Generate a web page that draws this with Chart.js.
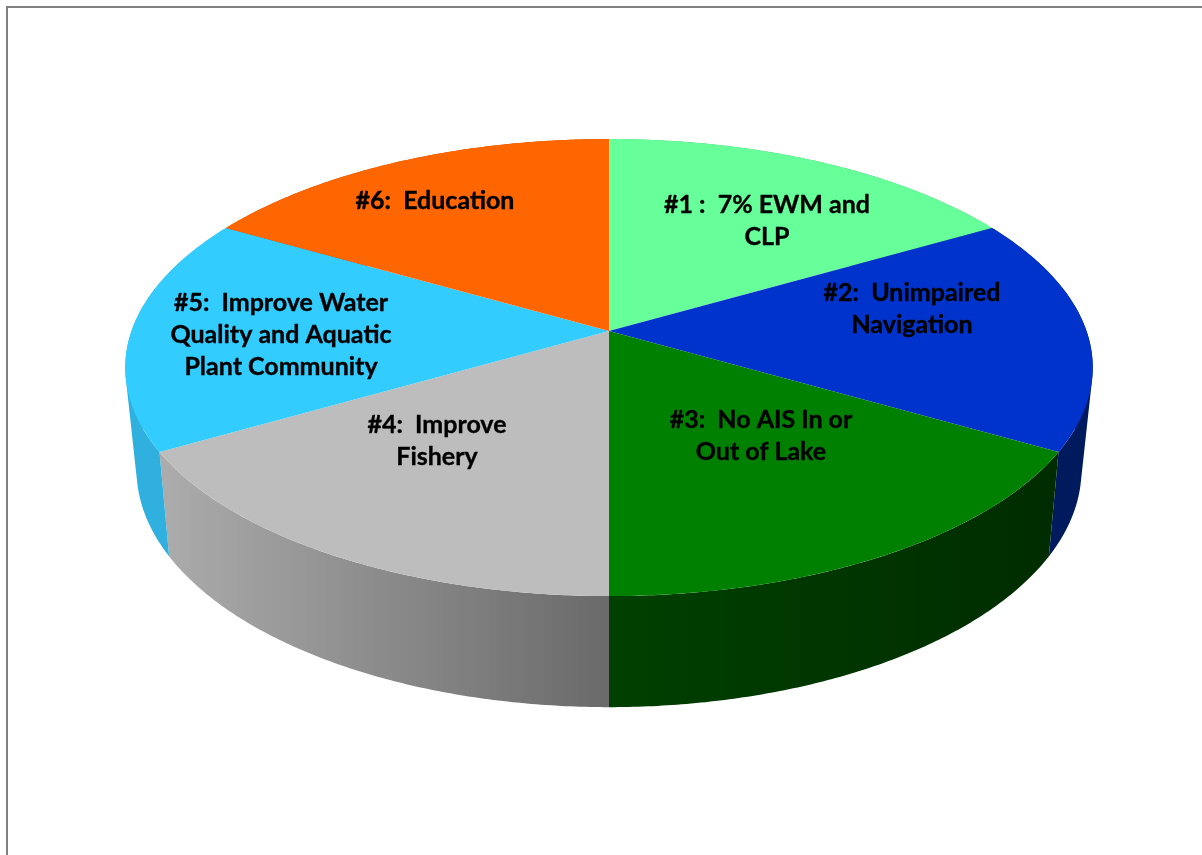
<!DOCTYPE html>
<html>
<head>
<meta charset="utf-8">
<style>
html,body{margin:0;padding:0;background:#fff;overflow:hidden}
#frame{position:absolute;left:6px;top:6px;width:1200px;height:860px;border-left:2px solid #808080;border-top:2px solid #808080}
canvas{position:absolute;left:0;top:0}
</style>
<script src="https://cdn.jsdelivr.net/npm/chart.js@4/dist/chart.umd.min.js"></script>
</head>
<body>
<div id="frame"></div>
<canvas id="c" width="1202" height="855"></canvas>
<script>
const categories = [
  ["#1 :  7% EWM and", "CLP"],
  ["#2:  Unimpaired", "Navigation"],
  ["#3:  No AIS In or", "Out of Lake"],
  ["#4:  Improve", "Fishery"],
  ["#5:  Improve Water", "Quality and Aquatic", "Plant Community"],
  ["#6:  Education"]
];
const sliceValues = [1, 1, 1, 1, 1, 1];
const topColors = ["#66FF99", "#0033CC", "#008000", "#BDBDBD", "#33CCFF", "#FF6600"];
// wall shading: colour at the left and right end of each visible wall
const wallColors = [
  ["#4dbf73", "#4dbf73"],
  ["#001a5e", "#001a5e"],
  ["#004000", "#002c00"],
  ["#acacac", "#6a6a6a"],
  ["#2fb0de", "#2fb0de"],
  ["#bf4d00", "#bf4d00"]
];

// Perspective of the disc: maps a unit-circle point to the page
const TOP = {x: 609, y: 331, a: 477.5, b: 222.7, c: -0.16};
const BOTTOM = {x: 609, y: 430.5, a: 466, b: 231, c: -0.165};
function project(plane, u, v) {
  const d = 1 + plane.c * v;
  return [plane.x + plane.a * u / d, plane.y + plane.b * v / d];
}
function tracePlane(ctx, plane, a0, a1, first) {
  const n = 90;
  for (let i = 0; i <= n; i++) {
    const a = a0 + (a1 - a0) * i / n;
    const p = project(plane, Math.cos(a), Math.sin(a));
    if (i === 0 && first) ctx.moveTo(p[0], p[1]); else ctx.lineTo(p[0], p[1]);
  }
}
const labelAnchors = [[767, 204.5], [912, 292.5], [761, 419.5], [437, 424.5], [281, 302.5], [435, 200.5]];
const lineGap = 32.4;

const disc3d = {
  id: 'disc3d',
  beforeDatasetDraw(chart, args) {
    const ctx = chart.ctx;
    const arcs = args.meta.data;
    ctx.save();
    // side walls: swept generators between the top and bottom rims
    arcs.forEach((el, i) => {
      const {startAngle, endAngle} = el.getProps(['startAngle', 'endAngle'], true);
      const steps = 120;
      const rims = [];
      for (let k = 0; k <= steps; k++) {
        const a = startAngle + (endAngle - startAngle) * k / steps;
        rims.push([project(TOP, Math.cos(a), Math.sin(a)), project(BOTTOM, Math.cos(a), Math.sin(a))]);
      }
      const xs = rims.flat().map(p => p[0]);
      const g = ctx.createLinearGradient(Math.min(...xs), 0, Math.max(...xs), 0);
      g.addColorStop(0, wallColors[i][0]);
      g.addColorStop(1, wallColors[i][1]);
      ctx.beginPath();
      for (let k = 0; k < steps; k++) {
        let q = [rims[k][0], rims[k + 1][0], rims[k + 1][1], rims[k][1]];
        let area = 0;
        q.forEach((p, j) => {
          const n = q[(j + 1) % 4];
          area += p[0] * n[1] - n[0] * p[1];
        });
        if (area < 0) q = q.reverse();
        ctx.moveTo(q[0][0], q[0][1]);
        for (let j = 1; j < 4; j++) ctx.lineTo(q[j][0], q[j][1]);
        ctx.closePath();
      }
      ctx.fillStyle = g;
      ctx.fill();
    });
    // top faces
    const hub = project(TOP, 0, 0);
    arcs.forEach((el) => {
      const {startAngle, endAngle} = el.getProps(['startAngle', 'endAngle'], true);
      ctx.beginPath();
      ctx.moveTo(hub[0], hub[1]);
      tracePlane(ctx, TOP, startAngle, endAngle, false);
      ctx.closePath();
      ctx.fillStyle = el.options.backgroundColor;
      ctx.fill();
    });
    ctx.restore();
    return false;
  },
  afterDatasetsDraw(chart) {
    const ctx = chart.ctx;
    ctx.save();
    ctx.fillStyle = '#000';
    ctx.strokeStyle = '#000';
    ctx.lineWidth = 0.35;
    ctx.textAlign = 'center';
    ctx.textBaseline = 'middle';
    ctx.font = 'bold 25px Lato, "Open Sans", sans-serif';
    chart.data.labels.forEach((lines, i) => {
      lines.forEach((t, k) => {
        const y = labelAnchors[i][1] + k * lineGap;
        ctx.fillText(t, labelAnchors[i][0], y);
        ctx.strokeText(t, labelAnchors[i][0], y);
      });
    });
    ctx.restore();
  }
};

new Chart(document.getElementById('c'), {
  type: 'pie',
  data: {
    labels: categories,
    datasets: [{data: sliceValues, backgroundColor: topColors, borderWidth: 0}]
  },
  options: {
    responsive: false,
    animation: false,
    events: [],
    layout: {padding: {left: 417, right: 401, top: 139, bottom: 332}},
    plugins: {legend: {display: false}, title: {display: false}, tooltip: {enabled: false}}
  },
  plugins: [disc3d]
});
</script>
</body>
</html>
